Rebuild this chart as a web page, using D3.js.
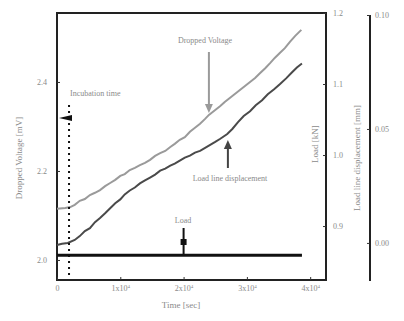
<!DOCTYPE html>
<html>
<head>
<meta charset="utf-8">
<script src="https://cdn.jsdelivr.net/npm/d3@7"></script>
<style>
  body { margin: 0; background: #fff; }
  text { font-family: "Liberation Serif", serif; fill: #8a8a8a; }
</style>
</head>
<body>
<div id="chart"></div>
<script>
// time [sec] vs dropped voltage [mV]
const timeV = [0, 1300, 2100, 2800, 3600, 4400, 5200, 6000, 6800, 7600, 8400, 9200, 10000, 10700,
  11500, 12300, 13100, 13900, 14700, 15500, 16300, 17100, 17900, 18600, 19400, 20200, 21000, 21800,
  22600, 23400, 24000, 25000, 25800, 26500, 27300, 28100, 28900, 29700, 30500, 31300, 32100, 32900,
  33700, 34400, 35200, 36000, 36800, 37600, 38600];
const voltage = [2.115, 2.117, 2.119, 2.124, 2.133, 2.137, 2.146, 2.151, 2.157, 2.166, 2.173, 2.180,
  2.189, 2.193, 2.202, 2.207, 2.213, 2.218, 2.225, 2.234, 2.240, 2.245, 2.254, 2.261, 2.270, 2.276,
  2.288, 2.297, 2.306, 2.317, 2.326, 2.337, 2.346, 2.355, 2.364, 2.373, 2.382, 2.391, 2.400, 2.409,
  2.420, 2.431, 2.443, 2.454, 2.465, 2.476, 2.490, 2.503, 2.517];

// time [sec] vs load line displacement [mm]
const timeD = [0, 800, 1700, 2800, 3600, 4400, 5200, 6000, 6800, 7600, 8400, 9200, 10000, 10700,
  11500, 12300, 13100, 13900, 14700, 15500, 16300, 17100, 17900, 18600, 19400, 20200, 21000, 21800,
  22600, 23400, 24200, 25000, 25800, 26900, 27700, 28600, 29500, 30500, 31400, 32400, 33300, 34300,
  35200, 36200, 37100, 37900, 38700];
const displacement = [-0.0009, -0.0004, 0.0000, 0.0013, 0.0030, 0.0052, 0.0065, 0.0091, 0.0109,
  0.0130, 0.0152, 0.0174, 0.0191, 0.0213, 0.0230, 0.0243, 0.0261, 0.0274, 0.0287, 0.0300, 0.0317,
  0.0326, 0.0339, 0.0348, 0.0361, 0.0374, 0.0383, 0.0396, 0.0404, 0.0417, 0.0430, 0.0443, 0.0457,
  0.0478, 0.0500, 0.0530, 0.0557, 0.0578, 0.0604, 0.0626, 0.0652, 0.0674, 0.0696, 0.0722, 0.0748,
  0.0770, 0.0787];

// time [sec] vs load [kN]
const timeL = [0, 38700];
const load = [0.859, 0.859];

const incubationTime = 1900;

const timeTicks = [0, 10000, 20000, 30000, 40000];
const voltTicks = [2.0, 2.2, 2.4];
const loadTicks = [0.9, 1.0, 1.1, 1.2];
const dispTicks = [0.00, 0.05, 0.10];

const width = 404, height = 321;
const plot = { left: 57, right: 326, top: 13, bottom: 280 };

const svg = d3.select('#chart').append('svg')
  .attr('width', width)
  .attr('height', height);

const x = d3.scaleLinear().domain([0, 42500]).range([plot.left, plot.right]);
const yV = d3.scaleLinear().domain([1.955, 2.555]).range([plot.bottom, plot.top]);
const yL = d3.scaleLinear().domain([0.824, 1.2]).range([plot.bottom, plot.top]);
const yD = d3.scaleLinear().domain([-0.0167, 0.1]).range([281, 15]);

// frame
svg.append('rect')
  .attr('x', plot.left).attr('y', plot.top)
  .attr('width', plot.right - plot.left).attr('height', plot.bottom - plot.top)
  .attr('fill', 'none').attr('stroke', '#222').attr('stroke-width', 2);

function styleAxis(g) {
  g.select('.domain').remove();
  g.selectAll('.tick line').attr('stroke', '#333');
  g.selectAll('.tick text').attr('fill', '#8a8a8a').style('font-size', '8px')
    .style('font-family', '"Liberation Serif", serif');
}

// bottom axis
const xAxis = svg.append('g')
  .attr('transform', `translate(0,${plot.bottom})`)
  .call(d3.axisBottom(x).tickValues(timeTicks).tickSizeInner(-3).tickSizeOuter(0).tickPadding(5)
    .tickFormat(() => ''))
  .call(styleAxis);
xAxis.selectAll('.tick text').each(function (d) {
  const t = d3.select(this);
  if (d === 0) { t.text('0'); return; }
  t.append('tspan').text(`${d / 10000}x10`);
  t.append('tspan').attr('dy', '-0.5em').style('font-size', '5px').text('4');
});

// left axis
svg.append('g')
  .attr('transform', `translate(${plot.left},0)`)
  .call(d3.axisLeft(yV).tickValues(voltTicks).tickSizeInner(-3).tickSizeOuter(0).tickPadding(10)
    .tickFormat(d3.format('.1f')))
  .call(styleAxis);

// right load axis
svg.append('g')
  .attr('transform', `translate(${plot.right},0)`)
  .call(d3.axisRight(yL).tickValues(loadTicks).tickSizeInner(-3).tickSizeOuter(0).tickPadding(7)
    .tickFormat(d3.format('.1f')))
  .call(styleAxis);

// second right axis (displacement)
const dispX = 370;
svg.append('line')
  .attr('x1', dispX).attr('x2', dispX).attr('y1', yD.range()[1]).attr('y2', yD.range()[0])
  .attr('stroke', '#222').attr('stroke-width', 2);
svg.append('g')
  .attr('transform', `translate(${dispX},0)`)
  .call(d3.axisRight(yD).tickValues(dispTicks).tickSizeInner(-3).tickSizeOuter(0).tickPadding(5)
    .tickFormat(d3.format('.2f')))
  .call(styleAxis);

// axis titles
svg.append('text')
  .attr('transform', `translate(22,158) rotate(-90)`)
  .attr('text-anchor', 'middle').style('font-size', '9px')
  .text('Dropped Voltage [mV]');
svg.append('text')
  .attr('x', 181).attr('y', 308)
  .attr('text-anchor', 'middle').style('font-size', '9px')
  .text('Time [sec]');
svg.append('text')
  .attr('transform', `translate(318,144) rotate(-90)`)
  .attr('text-anchor', 'middle').style('font-size', '9px')
  .text('Load [kN]');
svg.append('text')
  .attr('transform', `translate(360,158) rotate(-90)`)
  .attr('text-anchor', 'middle').style('font-size', '9px')
  .text('Load line displacement [mm]');

// curves
const lineV = d3.line().x((d, i) => x(timeV[i])).y(d => yV(d));
const lineD = d3.line().x((d, i) => x(timeD[i])).y(d => yD(d));
const lineL = d3.line().x((d, i) => x(timeL[i])).y(d => yL(d));

svg.append('path').datum(voltage).attr('d', lineV)
  .attr('fill', 'none').attr('stroke', '#9a9a9a').attr('stroke-width', 2);
svg.append('path').datum(displacement).attr('d', lineD)
  .attr('fill', 'none').attr('stroke', '#4a4a4a').attr('stroke-width', 2);
svg.append('path').datum(load).attr('d', lineL)
  .attr('fill', 'none').attr('stroke', '#111').attr('stroke-width', 3);

// incubation time marker
svg.append('line')
  .attr('x1', x(incubationTime)).attr('x2', x(incubationTime))
  .attr('y1', 105).attr('y2', plot.bottom - 2)
  .attr('stroke', '#111').attr('stroke-width', 2).attr('stroke-dasharray', '2,4');
svg.append('path')
  .attr('d', `M${plot.left + 2},118 L${x(incubationTime) + 3},115 L${x(incubationTime) + 3},121 Z`)
  .attr('fill', '#111');
svg.append('text')
  .attr('x', 70).attr('y', 96).style('font-size', '8px')
  .text('Incubation time');

// annotations
const arrowV = x(24000);
svg.append('line').attr('x1', arrowV).attr('x2', arrowV).attr('y1', 52).attr('y2', 108)
  .attr('stroke', '#9a9a9a').attr('stroke-width', 2);
svg.append('path').attr('d', `M${arrowV - 4},104 L${arrowV + 4},104 L${arrowV},113 Z`)
  .attr('fill', '#9a9a9a');
svg.append('text').attr('x', 205).attr('y', 43).attr('text-anchor', 'middle')
  .style('font-size', '8px').text('Dropped Voltage');

const arrowD = x(27000);
svg.append('line').attr('x1', arrowD).attr('x2', arrowD).attr('y1', 168).attr('y2', 146)
  .attr('stroke', '#444').attr('stroke-width', 2);
svg.append('path').attr('d', `M${arrowD - 4},149 L${arrowD + 4},149 L${arrowD},140 Z`)
  .attr('fill', '#444');
svg.append('text').attr('x', 230).attr('y', 181).attr('text-anchor', 'middle')
  .style('font-size', '8px').text('Load line displacement');

const arrowL = x(20000);
svg.append('line').attr('x1', arrowL).attr('x2', arrowL).attr('y1', 228).attr('y2', yL(load[0]))
  .attr('stroke', '#111').attr('stroke-width', 2);
svg.append('rect').attr('x', arrowL - 3).attr('y', 239).attr('width', 6).attr('height', 6)
  .attr('fill', '#111');
svg.append('text').attr('x', 183).attr('y', 223).attr('text-anchor', 'middle')
  .style('font-size', '8px').text('Load');
</script>
</body>
</html>
